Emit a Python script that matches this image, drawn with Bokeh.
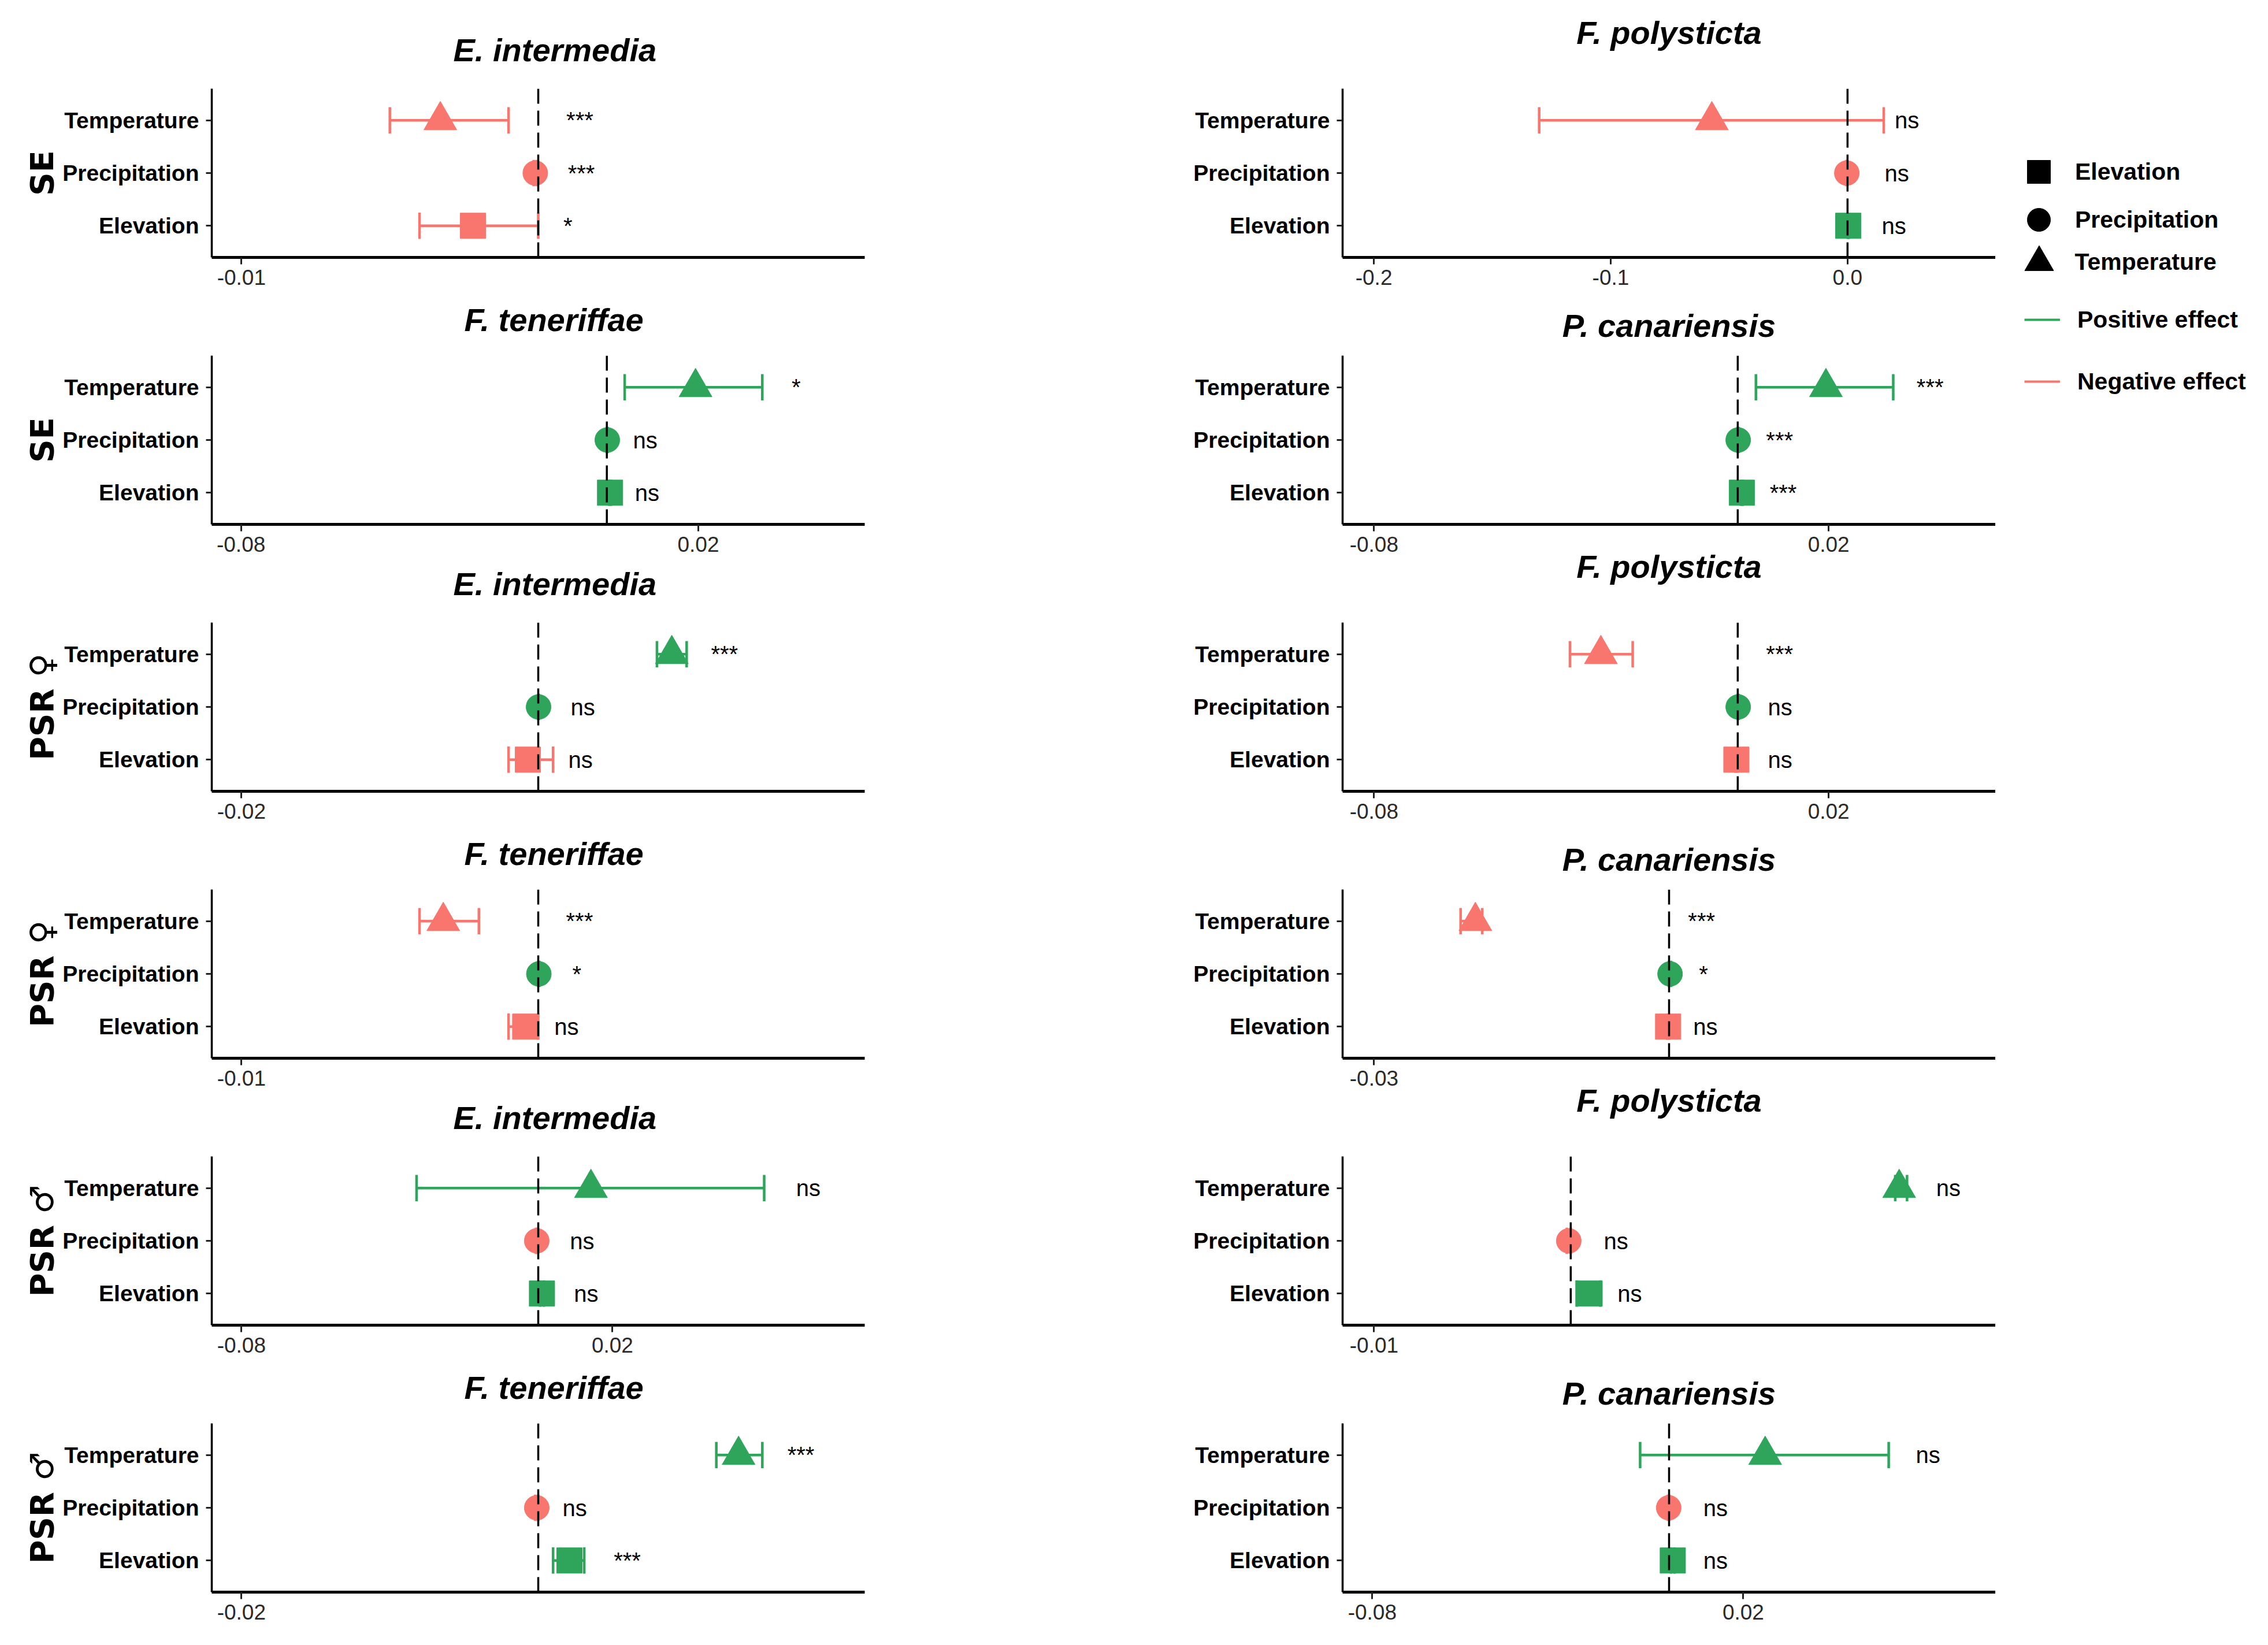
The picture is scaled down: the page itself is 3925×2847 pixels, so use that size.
from bokeh.plotting import figure
from bokeh.models import (Range1d, FixedTicker, Span, ColumnDataSource, Legend,
                          LegendItem)
from bokeh.layouts import row, column
from bokeh.embed import file_html
from bokeh.resources import INLINE
from bokeh.core.properties import value

# ---------------- data (order within each panel: Elevation, Precipitation, Temperature)
predictors = ["Elevation", "Precipitation", "Temperature"]

titles = ["E. intermedia", "F. polysticta",
          "F. teneriffae", "P. canariensis",
          "E. intermedia", "F. polysticta",
          "F. teneriffae", "P. canariensis",
          "E. intermedia", "F. polysticta",
          "F. teneriffae", "P. canariensis"]

row_labels = ["SE", "SE", "PSR \u2640", "PSR \u2640", "PSR \u2642", "PSR \u2642"]

estimate = [
    [-0.0022, -0.0001, -0.0033],
    [0.0003, -0.0003, -0.0573],
    [0.0007, 0.0001, 0.0194],
    [0.0009, 0.0001, 0.0194],
    [-0.0007, 0.00002, 0.0090],
    [-0.0003, 0.0001, -0.0301],
    [-0.00044, 0.00002, -0.0032],
    [-0.0001, 0.0001, -0.0197],
    [0.0010, -0.0004, 0.0142],
    [0.00096, -0.0001, 0.0167],
    [0.0021, -0.0001, 0.0135],
    [0.0010, -0.0001, 0.0259],
]
lower = [
    [-0.0040, -0.00015, -0.0050],
    [0.0001, -0.0005, -0.1302],
    [0.0005, 0.0000, 0.0039],
    [0.0007, 0.0000, 0.0040],
    [-0.0020, 0.0000, 0.0080],
    [-0.0005, 0.0000, -0.0369],
    [-0.0010, 0.0000, -0.0040],
    [-0.0002, 0.0000, -0.0212],
    [0.0005, -0.0006, -0.0328],
    [0.0003, -0.0002, 0.0165],
    [0.0010, -0.0002, 0.0120],
    [0.0005, -0.0003, -0.0078],
]
upper = [
    [0.0000, -0.00005, -0.0010],
    [0.0005, -0.0001, 0.0153],
    [0.0009, 0.0002, 0.0340],
    [0.0011, 0.0002, 0.0342],
    [0.0010, 0.00004, 0.0100],
    [-0.0001, 0.0002, -0.0231],
    [0.0000, 0.00004, -0.0020],
    [0.0000, 0.0002, -0.0190],
    [0.0015, -0.0002, 0.0609],
    [0.0015, 0.0000, 0.0171],
    [0.0031, 0.0000, 0.0151],
    [0.0015, 0.0001, 0.0592],
]
signif = [
    ["*", "***", "***"],
    ["ns", "ns", "ns"],
    ["ns", "ns", "*"],
    ["***", "***", "***"],
    ["ns", "ns", "***"],
    ["ns", "ns", "***"],
    ["ns", "*", "***"],
    ["ns", "*", "***"],
    ["ns", "ns", "ns"],
    ["ns", "ns", "ns"],
    ["***", "ns", "***"],
    ["ns", "ns", "ns"],
]
signif_x = [
    [0.0010, 0.00145, 0.0014],
    [0.0196, 0.0208, 0.0251],
    [0.0088, 0.0084, 0.0414],
    [0.0100, 0.0092, 0.0423],
    [0.00285, 0.0030, 0.01255],
    [0.0093, 0.0093, 0.0092],
    [0.00095, 0.0013, 0.00139],
    [0.0037, 0.0035, 0.0033],
    [0.0129, 0.0118, 0.0728],
    [0.0030, 0.0023, 0.0192],
    [0.0060, 0.00246, 0.0177],
    [0.0125, 0.0125, 0.0698],
]
x_limits = [
    (-0.011, 0.011), (-0.2132, 0.0625),
    (-0.0864, 0.0564), (-0.0869, 0.0567),
    (-0.022, 0.022), (-0.0869, 0.0567),
    (-0.011, 0.011), (-0.0332, 0.0332),
    (-0.088, 0.088), (-0.0116, 0.0216),
    (-0.022, 0.022), (-0.088, 0.088),
]
x_ticks = [
    [-0.01], [-0.2, -0.1, 0.0],
    [-0.08, 0.02], [-0.08, 0.02],
    [-0.02], [-0.08, 0.02],
    [-0.01], [-0.03],
    [-0.08, 0.02], [-0.01],
    [-0.02], [-0.08, 0.02],
]
x_tick_labels = [
    ["-0.01"], ["-0.2", "-0.1", "0.0"],
    ["-0.08", "0.02"], ["-0.08", "0.02"],
    ["-0.02"], ["-0.08", "0.02"],
    ["-0.01"], ["-0.03"],
    ["-0.08", "0.02"], ["-0.01"],
    ["-0.02"], ["-0.08", "0.02"],
]
effect_labels = ["Positive effect", "Negative effect"]

# ---------------- style
GREEN = "#2EA55B"
RED = "#F8766D"
FONT = "Liberation Sans"
MARKERS = {"Elevation": ("square", 44), "Precipitation": ("circle", 43),
           "Temperature": ("triangle", 57)}
LEGEND_MARKER = {"Elevation": 40, "Precipitation": 40, "Temperature": 50}
LEGEND_Y = {"Elevation": 305, "Precipitation": 388, "Temperature": 461}
TITLE_STANDOFF = {"E. intermedia": 71, "F. teneriffae": 61,
                  "F. polysticta": 131, "P. canariensis": 41}
# approximate rendered title widths (px) used to shift left-column titles
TITLE_WIDTH = {"E. intermedia": 350, "F. teneriffae": 311}
TITLE_DX = [28, 0]
ERR_W = 4.5
FRAME_W, FRAME_H = 1130, 292
TOP_CANVAS = 200                 # canvas space above each frame (title room)
TOP_FIRST, TOP, BOTTOM = 153, 108, 62   # visible spacing between panels
BORDER_L = [366, 378]
BORDER_R = [449, 0]
LEG_W, LEG_H = 456, 720


def make_panel(i):
    r, c = divmod(i, 2)
    pitch_top = TOP_FIRST if r == 0 else TOP
    bl, br = BORDER_L[c], BORDER_R[c]
    p = figure(width=bl + FRAME_W + br, height=TOP_CANVAS + FRAME_H + BOTTOM,
               x_range=Range1d(*x_limits[i]), y_range=Range1d(0.4, 3.6),
               output_backend="svg", toolbar_location=None,
               min_border_left=bl, min_border_right=br,
               min_border_top=TOP_CANVAS, min_border_bottom=BOTTOM)
    # let the title room overlap the (empty) strip under the panel above
    p.margin = (pitch_top - TOP_CANVAS, 0, 0, 0)
    p.grid.visible = False
    p.outline_line_color = None
    p.background_fill_color = None
    p.border_fill_color = None

    p.title.text = titles[i]
    p.title.text_font = FONT
    p.title.text_font_style = "bold italic"
    p.title.text_font_size = "56px"
    p.title.text_color = "black"
    if TITLE_DX[c] and titles[i] in TITLE_WIDTH:
        p.title.align = "left"
        p.title.offset = int(FRAME_W / 2 + TITLE_DX[c] - TITLE_WIDTH[titles[i]] / 2)
    else:
        p.title.align = "center"
    p.title.standoff = TITLE_STANDOFF[titles[i]]

    ys = [k + 1 for k in range(len(predictors))]
    est = estimate[i]
    colors = [GREEN if e > 0 else RED for e in est]
    src = ColumnDataSource(dict(
        y=ys, ylo=[y - 0.25 for y in ys], yhi=[y + 0.25 for y in ys],
        est=est, lo=lower[i], hi=upper[i], color=colors,
        marker=[MARKERS[n][0] for n in predictors],
        size=[MARKERS[n][1] for n in predictors],
        sig=signif[i], sigx=signif_x[i]))

    p.segment(x0="lo", y0="y", x1="hi", y1="y", line_color="color",
              line_width=ERR_W, source=src)
    p.segment(x0="lo", y0="ylo", x1="lo", y1="yhi", line_color="color",
              line_width=ERR_W, source=src)
    p.segment(x0="hi", y0="ylo", x1="hi", y1="yhi", line_color="color",
              line_width=ERR_W, source=src)
    p.scatter(x="est", y="y", marker="marker", size="size", fill_color="color",
              line_color="color", line_width=1, source=src)
    p.text(x="sigx", y="y", text="sig", text_font=value(FONT),
           text_font_size="40px", text_align="center", text_baseline="middle",
           text_color="black", source=src)
    p.add_layout(Span(location=0, dimension="height", line_color="black",
                      line_width=3.5, line_dash="26 12"))

    xa = p.xaxis[0]
    xa.ticker = FixedTicker(ticks=x_ticks[i])
    xa.major_label_overrides = {t: l for t, l in zip(x_ticks[i], x_tick_labels[i])}
    xa.axis_line_width = 5
    xa.axis_line_color = "black"
    xa.major_tick_line_width = 3
    xa.major_tick_line_color = "#222222"
    xa.major_tick_out = 12
    xa.major_tick_in = 0
    xa.minor_tick_line_color = None
    xa.major_label_standoff = 9
    xa.major_label_text_font = FONT
    xa.major_label_text_font_size = "37px"
    xa.major_label_text_color = "#2a2a2a"

    ya = p.yaxis[0]
    ya.ticker = FixedTicker(ticks=ys)
    ya.major_label_overrides = {y: n for y, n in zip(ys, predictors)}
    ya.axis_line_width = 3.5
    ya.axis_line_color = "black"
    ya.major_tick_line_width = 3
    ya.major_tick_line_color = "#222222"
    ya.major_tick_out = 10
    ya.major_tick_in = 0
    ya.minor_tick_line_color = None
    ya.major_label_standoff = 12
    ya.major_label_text_font = FONT
    ya.major_label_text_font_style = "bold"
    ya.major_label_text_font_size = "39px"
    ya.major_label_text_color = "black"
    if c == 0:
        ya.axis_label = row_labels[r]
        ya.axis_label_text_font = "DejaVu Sans"
        ya.axis_label_text_font_style = "bold"
        ya.axis_label_text_font_size = "56px"
        ya.axis_label_text_color = "black"
        ya.axis_label_standoff = 0
    return p


panels = [make_panel(i) for i in range(12)]
left_col = column(*panels[0::2])
right_col = column(*panels[1::2])

# ---------------- legend panel
lg = figure(width=LEG_W, height=LEG_H, x_range=Range1d(0, 1),
            y_range=Range1d(0, 1), output_backend="svg", toolbar_location=None,
            min_border=0, x_axis_location=None, y_axis_location=None)
lg.grid.visible = False
lg.outline_line_color = None
lg.border_fill_color = None
lg.background_fill_color = None

common = dict(label_text_font=FONT, label_text_font_style="bold",
              label_text_font_size="41px", label_text_color="black",
              border_line_color=None, background_fill_alpha=0,
              padding=0, margin=0)

# shape legend: one entry per predictor (hidden dummy point outside the range)
for n in predictors:
    m, _ = MARKERS[n]
    rr = lg.scatter(x=[-5], y=[-5], marker=m, fill_color="black",
                    line_color="black")
    box = LEGEND_MARKER[n] / 0.4
    cx = 3536 - 3461
    leg = Legend(items=[LegendItem(label=n, renderers=[rr])],
                 location=(cx - box / 2, LEG_H + 8 - (LEGEND_Y[n] + box / 2)),
                 glyph_width=int(box), glyph_height=int(box),
                 label_standoff=int(3599 - 3461 - (cx + box / 2)), **common)
    lg.add_layout(leg)

# colour legend
effect_items = []
for lab, col in zip(effect_labels, [GREEN, RED]):
    rr = lg.line(x=[-5, -4], y=[-5, -5], line_color=col, line_width=4)
    effect_items.append(LegendItem(label=lab, renderers=[rr]))
leg2 = Legend(items=effect_items, location=(50, LEG_H + 8 - 696),
              glyph_width=62, glyph_height=56, spacing=51, label_standoff=30,
              **common)
lg.add_layout(leg2)

layout = row(left_col, right_col, lg)
open("out.html", "w").write(file_html(layout, INLINE))
